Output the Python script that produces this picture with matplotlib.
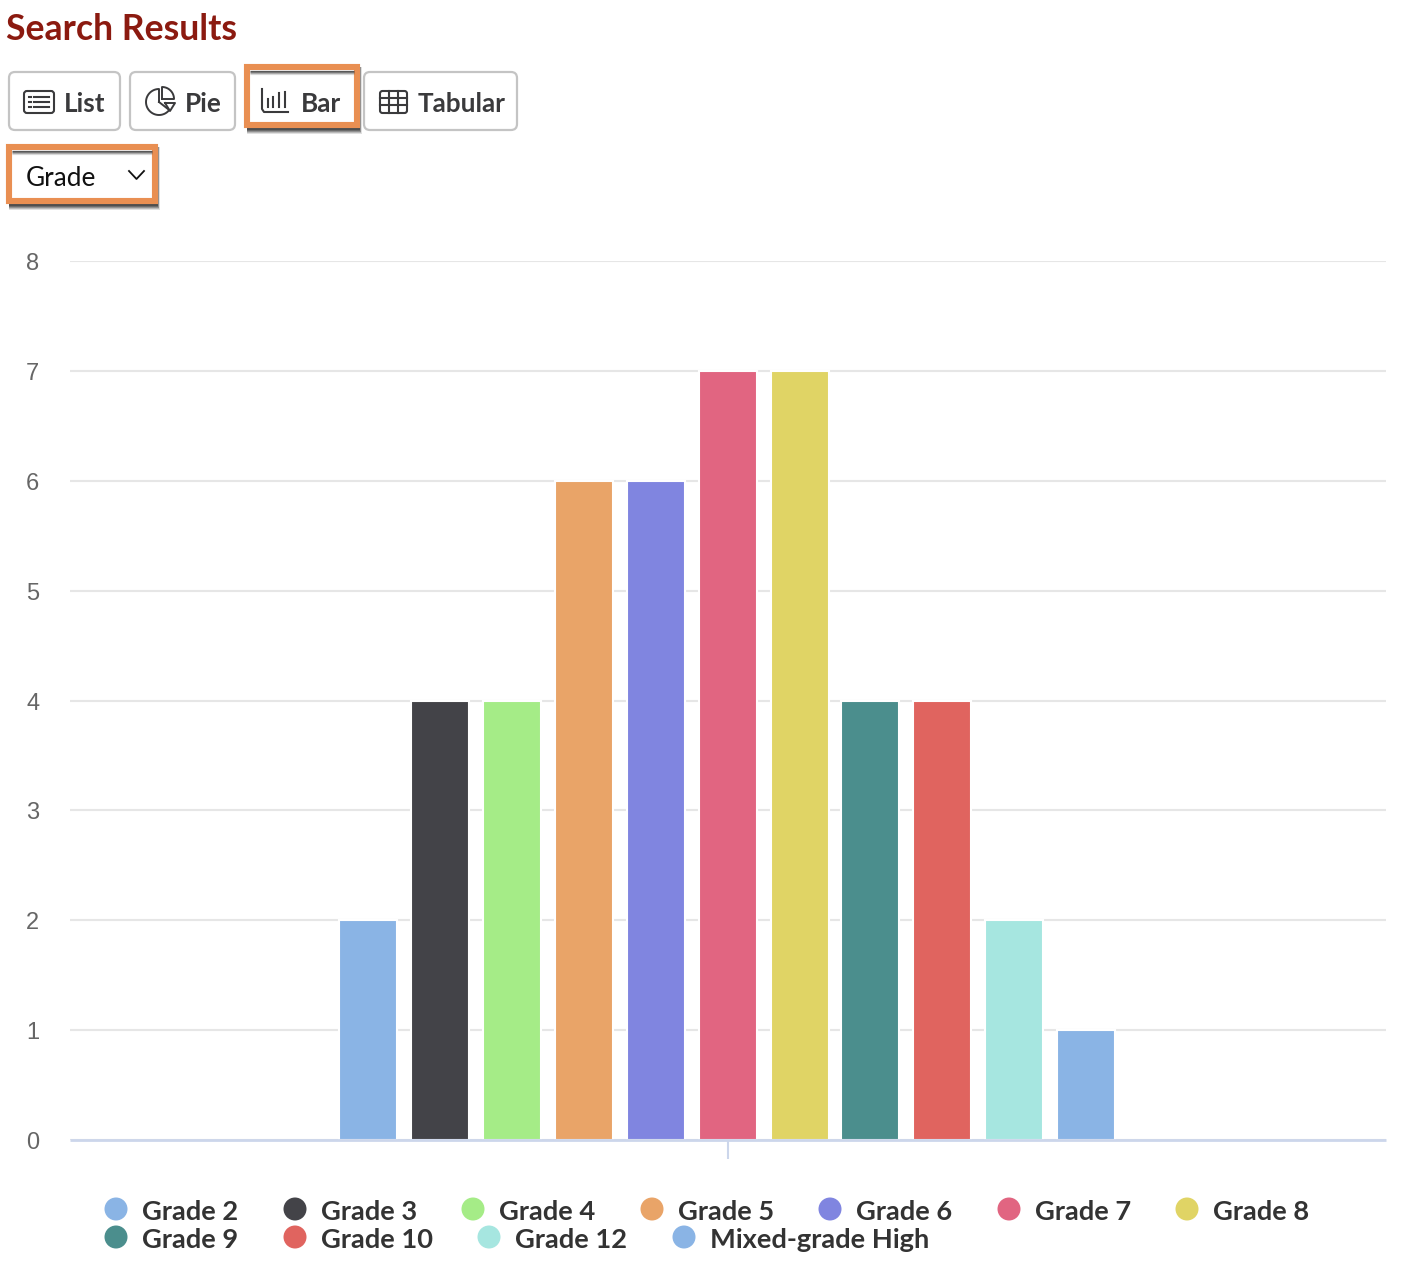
import numpy as np
import matplotlib
matplotlib.use('Agg')
import matplotlib.pyplot as plt
from matplotlib.patches import FancyBboxPatch, Rectangle, Ellipse
from matplotlib.transforms import ScaledTranslation

plt.rcParams['font.family'] = ['Lato', 'DejaVu Sans']

grades = ['Grade 2', 'Grade 3', 'Grade 4', 'Grade 5', 'Grade 6', 'Grade 7', 'Grade 8',
          'Grade 9', 'Grade 10', 'Grade 12', 'Mixed-grade High']
counts = [2, 4, 4, 6, 6, 7, 7, 4, 4, 2, 1]
colors = ['#8ab4e5', '#434348', '#a5ec87', '#e9a468', '#8085e0', '#e16581', '#e0d465',
          '#4b8e8d', '#e0645f', '#a6e6e0', '#8ab4e5']
y_ticks = [0, 1, 2, 3, 4, 5, 6, 7, 8]
buttons = ['List', 'Pie', 'Bar', 'Tabular']

W, H = 1402, 1270
fig = plt.figure(figsize=(W / 100, H / 100), dpi=100)

# page layer in pixel coordinates, for the buttons and the legend
page = fig.add_axes([0, 0, 1, 1], zorder=2)
page.set_xlim(0, W)
page.set_ylim(H, 0)
page.axis('off')
page.patch.set_alpha(0)

# plot area
ax = fig.add_axes([70 / W, 1 - 1140 / H, (1386 - 70) / W, (1140 - 261) / H], zorder=1)
x = np.arange(len(counts), dtype=float)
x[7:] -= 2 / 72
ax.bar(x, counts, width=58 / 72, color=colors, edgecolor='white', linewidth=1.5, zorder=3)
ax.set_xlim((70 - 728) / 72 + 5, (1386 - 728) / 72 + 5)
ax.set_ylim(0, 8)
ax.set_yticks(y_ticks)
ax.set_yticklabels([str(t) for t in y_ticks], family='Liberation Sans', va='center')
ax.set_xticks([5])
ax.set_xticklabels([''])
ax.grid(axis='y', color='#e6e6e6', linewidth=1.5, zorder=0)
ax.tick_params(axis='y', length=0, labelsize=17, labelcolor='#666666', pad=22)
ax.tick_params(axis='x', length=13.5, width=1.5, color='#ccd6eb')
# labels sit a little under their gridlines
down = ScaledTranslation(0, -3 / 100, fig.dpi_scale_trans)
for lab in ax.get_yticklabels():
    lab.set_transform(lab.get_transform() + down)
for s in ['top', 'left', 'right']:
    ax.spines[s].set_visible(False)
ax.spines['bottom'].set_color('#ccd6eb')
ax.spines['bottom'].set_linewidth(2)
ax.spines['bottom'].set_zorder(5)
ax.spines['bottom'].set_capstyle('butt')

page.text(6, 29, 'Search Results', color='#8b1a10', fontsize=25.7, fontweight='bold', va='center')


def button(x0, x1, y0=72, y1=130):
    page.add_patch(FancyBboxPatch((x0, y0), x1 - x0, y1 - y0, boxstyle='round,pad=0,rounding_size=6',
                                  fc='white', ec='#c4c4c4', lw=1.6))


def highlight(x0, x1, y0, y1):
    # soft shadow below and to the right, then white inside
    for i, a in zip([9, 8, 7, 6, 5], [0.15, 0.22, 0.3, 0.4, 0.5]):
        page.add_patch(Rectangle((x0 + 3, y0 + 3), x1 - x0 - 6 + i / 2, y1 - y0 - 3 + i - 3, fc='#333333', ec='none', alpha=a))
    page.add_patch(Rectangle((x0, y0), x1 - x0, y1 - y0, fc='white', ec='none'))
    # inner shadow along the top
    for i, a in zip([0, 1, 2, 3], [0.8, 0.6, 0.35, 0.15]):
        page.plot([x0 + 6, x1 - 6], [y0 + 6.5 + i, y0 + 6.5 + i], color='#333333', lw=0.9, alpha=a, solid_capstyle='butt')
    page.add_patch(Rectangle((x0 + 3, y0 + 3), x1 - x0 - 6, y1 - y0 - 6, fc='none', ec='#e98f52', lw=4.4))


button(9, 120)
button(130, 235)
button(364, 517)
highlight(244, 360, 64, 128)
highlight(6, 158, 144, 204)

label_x = [64, 185, 301, 418]
for name, lx in zip(buttons, label_x):
    page.text(lx, 104, name, color='#3a3a3c', fontsize=18.8, fontweight='bold', va='center')

ink = '#3a3a3c'
# list icon
page.add_patch(FancyBboxPatch((24, 91), 30, 22, boxstyle='round,pad=0,rounding_size=3', fc='none', ec=ink, lw=1.5))
for yy in [97, 102, 107]:
    page.plot([29, 31], [yy, yy], color=ink, lw=1.5)
    page.plot([34, 49], [yy, yy], color=ink, lw=1.5)


def sector(cx, cy, r, a0, a1):
    a = np.radians(np.linspace(a0, a1, 40))
    px = np.r_[cx, cx + r * np.cos(a), cx]
    py = np.r_[cy, cy - r * np.sin(a), cy]
    page.plot(px, py, color=ink, lw=1.4)


# pie icon
sector(159, 102, 13, 90, 322)
sector(162, 99, 12, 0, 90)
page.plot([165, 175, 170, 165], [103, 103, 111, 103], color=ink, lw=1.4)
# bar icon
page.plot([262, 262, 264, 288], [89, 109, 112, 112], color=ink, lw=1.5)
for bx, top in zip([268, 273, 279, 285], [99, 97, 93, 92]):
    page.plot([bx, bx], [top, 107], color=ink, lw=1.5)
# table icon
page.add_patch(FancyBboxPatch((380, 91), 27, 22, boxstyle='round,pad=0,rounding_size=2.5', fc='none', ec=ink, lw=1.5))
for gx in [389, 398]:
    page.plot([gx, gx], [91, 113], color=ink, lw=1.5)
for gy in [98, 105]:
    page.plot([380, 407], [gy, gy], color=ink, lw=1.5)

# dropdown
page.text(26, 179, 'Grade', color='#111111', fontsize=18.8, va='center')
page.plot([129, 136.5, 144], [171, 179, 171], color='#111111', lw=1.3)

# legend, first row then second row
legend_x = [116, 295, 473, 652, 830, 1009, 1187, 116, 295, 489, 684]
legend_y = [1209] * 7 + [1237] * 4
for name, c, lx, ly in zip(grades, colors, legend_x, legend_y):
    page.add_patch(Ellipse((lx, ly), 23, 23, fc=c, ec='none'))
    page.text(lx + 26, ly + 3, name, color='#333333', fontsize=19.6, fontweight='bold', va='center')

fig.savefig('out.png', dpi=100)
